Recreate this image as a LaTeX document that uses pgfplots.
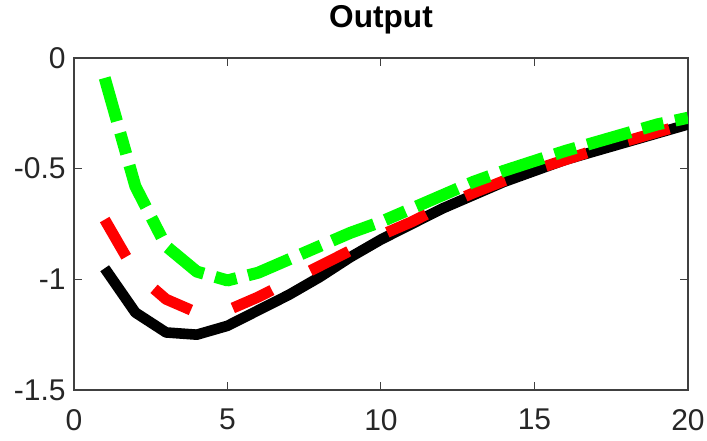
\documentclass[border=0pt]{standalone}
\usepackage{fontspec}
\setmainfont{Liberation Sans}
\usepackage{pgfplots}
\pgfplotsset{compat=1.18}
\definecolor{axgray}{gray}{0.25}
\begin{document}
\begin{tikzpicture}
\begin{axis}[
  scale only axis,
  width=307pt, height=166pt,
  xmin=0, xmax=20, ymin=-1.5, ymax=0,
  xtick={0,5,10,15,20},
  xticklabels={0,5,10,15,20},
  ytick={-1.5,-1,-0.5,0},
  yticklabels={-1.5,-1,-0.5,0},
  tick align=inside,
  major tick length=4pt,
  tick style={axgray, line width=0.5pt},
  axis line style={axgray, line width=0.6pt},
  every tick label/.append style={font=\fontsize{15}{17}\selectfont, text=black!85},
  xticklabel style={yshift=-6pt},
  yticklabel style={xshift=-0.7pt},
  title={\bfseries Output},
  title style={font=\fontsize{15.8}{18}\selectfont, at={(0.5,1)}, anchor=south, yshift=2.5pt},
  clip=true,
]
\addplot[black, line width=5.3pt, line join=round] coordinates {
 (1,-0.95) (2,-1.15) (3,-1.24) (4,-1.25) (5,-1.21) (6,-1.14) (7,-1.07) (8,-0.99)
 (9,-0.90) (10,-0.82) (11,-0.75) (12,-0.68) (13,-0.62) (14,-0.56) (15,-0.51)
 (16,-0.46) (17,-0.42) (18,-0.38) (19,-0.34) (20,-0.30)};
\addplot[red, line width=5.5pt, line join=round, dash pattern=on 21.5pt off 21.5pt] coordinates {
 (1,-0.73) (2,-0.97) (3,-1.09) (4,-1.15) (5,-1.14) (6,-1.08) (7,-1.01) (8,-0.94)
 (9,-0.87) (10,-0.80) (11,-0.74) (12,-0.67) (13,-0.61) (14,-0.555) (15,-0.505)
 (16,-0.46) (17,-0.415) (18,-0.375) (19,-0.335) (20,-0.295)};
\addplot[green, line width=6pt, line join=round, dash pattern=on 22.5pt off 6pt on 11pt off 6pt] coordinates {
 (1,-0.09) (2,-0.58) (3,-0.85) (4,-0.965) (5,-1.005) (6,-0.97) (7,-0.91) (8,-0.85)
 (9,-0.79) (10,-0.74) (11,-0.68) (12,-0.62) (13,-0.56) (14,-0.51) (15,-0.465)
 (16,-0.42) (17,-0.38) (18,-0.34) (19,-0.30) (20,-0.27)};
\end{axis}
\pgfresetboundingbox
\path (-37pt,-25pt) rectangle (316.5pt,195pt);
\end{tikzpicture}
\end{document}
